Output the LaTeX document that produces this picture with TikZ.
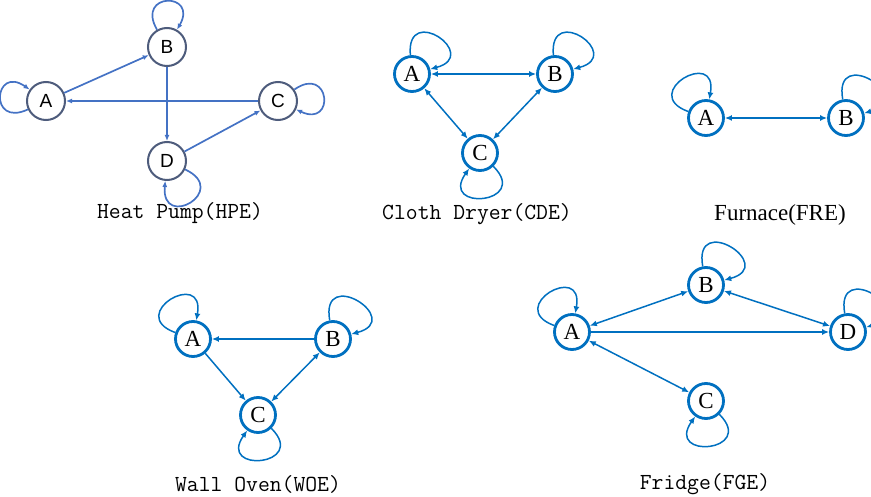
\documentclass[tikz,border=0pt]{standalone}
\usepackage{fontspec}
\setmainfont{Liberation Serif}
\newfontfamily\hpfont{Liberation Sans}
\usetikzlibrary{arrows.meta}

\definecolor{edgeblue}{RGB}{0,112,192}
\definecolor{hpline}{RGB}{68,114,196}
\definecolor{hpring}{RGB}{78,92,124}

\tikzset{
  appl/.style={circle, draw=edgeblue, line width=2.8pt, minimum size=35pt, inner sep=0pt,
    fill=white, font=\fontsize{23}{24}\selectfont},
  hpappl/.style={circle, draw=hpring, line width=2pt, minimum size=38pt, inner sep=0pt,
    fill=white, font=\hpfont\fontsize{19}{20}\selectfont},
  link/.style={draw=edgeblue, line width=1.5pt, -{Latex[length=7pt,width=6pt]}},
  twoway/.style={link, {Latex[length=7pt,width=6pt]}-{Latex[length=7pt,width=6pt]}},
  hplink/.style={draw=hpline, line width=1.7pt, -{Latex[length=6pt,width=5pt]}},
  selfloop/.style={looseness=5.6},
  caption/.style={font=\ttfamily\fontsize{23}{25}\selectfont},
}

\begin{document}
\begin{tikzpicture}[x=1pt, y=1pt]
  \useasboundingbox (0,0) rectangle (871,496);
  \clip (0,0) rectangle (871,496);

  % Heat pump
  \node[hpappl] (hpA) at (46,395) {A};
  \node[hpappl] (hpB) at (167,449) {B};
  \node[hpappl] (hpC) at (278,395) {C};
  \node[hpappl] (hpD) at (167,335) {D};
  \draw[hplink] (hpA) -- (hpB);
  \draw[hplink] (hpC) -- (hpA);
  \draw[hplink] (hpB) -- (hpD);
  \draw[hplink] (hpD) -- (hpC);
  \draw[hplink, selfloop] (hpA) to[out=205, in=145] (hpA);
  \draw[hplink, selfloop] (hpB) to[out=120, in=60] (hpB);
  \draw[hplink, selfloop] (hpC) to[out=35, in=-25] (hpC);
  \draw[hplink, selfloop] (hpD) to[out=-25, in=-95] (hpD);
  \node[caption] (hpe) at (180,283) {Heat Pump(HPE)};

  % Cloth dryer
  \node[appl] (cdA) at (412,422) {A};
  \node[appl] (cdB) at (555,422) {B};
  \node[appl] (cdC) at (480,343) {C};
  \draw[twoway] (cdA) -- (cdB);
  \draw[twoway] (cdA) -- (cdC);
  \draw[twoway] (cdB) -- (cdC);
  \draw[link, selfloop] (cdA) to[out=95, in=15] (cdA);
  \draw[link, selfloop] (cdB) to[out=95, in=15] (cdB);
  \draw[link, selfloop] (cdC) to[out=-45, in=-125] (cdC);
  \node[caption] (cde) at (477,282) {Cloth Dryer(CDE)};

  % Furnace
  \node[appl] (frA) at (706,378) {A};
  \node[appl] (frB) at (846,378) {B};
  \draw[twoway] (frA) -- (frB);
  \draw[link, selfloop] (frA) to[out=160, in=80] (frA);
  \draw[link, selfloop] (frB) to[out=100, in=15] (frB);
  \node[font=\fontsize{23}{25}\selectfont] (fre) at (780,281) {Furnace(FRE)};

  % Wall oven
  \node[appl] (woA) at (193,157) {A};
  \node[appl] (woB) at (333,157) {B};
  \node[appl] (woC) at (258,81) {C};
  \draw[link] (woB) -- (woA);
  \draw[link] (woA) -- (woC);
  \draw[twoway] (woB) -- (woC);
  \draw[link, selfloop] (woA) to[out=160, in=80] (woA);
  \draw[link, selfloop] (woB) to[out=100, in=15] (woB);
  \draw[link, selfloop] (woC) to[out=-45, in=-125] (woC);
  \node[caption] (woe) at (258,12) {Wall Oven(WOE)};

  % Fridge
  \node[appl] (fgA) at (572,164) {A};
  \node[appl] (fgB) at (706,211) {B};
  \node[appl] (fgC) at (706,95) {C};
  \node[appl] (fgD) at (848,164) {D};
  \draw[twoway] (fgA) -- (fgB);
  \draw[twoway] (fgB) -- (fgD);
  \draw[link] (fgA) -- (fgD);
  \draw[twoway] (fgA) -- (fgC);
  \draw[link, selfloop] (fgA) to[out=160, in=80] (fgA);
  \draw[link, selfloop] (fgB) to[out=100, in=15] (fgB);
  \draw[link, selfloop] (fgC) to[out=-45, in=-125] (fgC);
  \draw[link, selfloop] (fgD) to[out=100, in=15] (fgD);
  \node[caption] (fge) at (705,12) {Fridge(FGE)};
\end{tikzpicture}
\end{document}
